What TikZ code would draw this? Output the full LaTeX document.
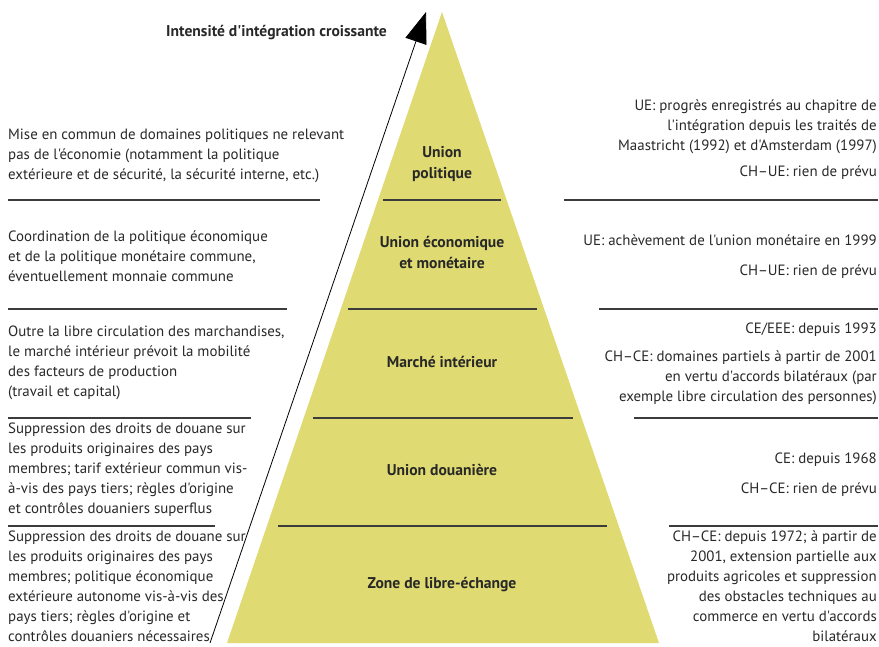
\documentclass[tikz,border=0pt]{standalone}
\usepackage{fontspec}
\setmainfont{PT Sans}[Ligatures=TeXOff]
\usetikzlibrary{arrows.meta}
\definecolor{pyrfill}{RGB}{223,219,114}
\definecolor{txtgray}{RGB}{40,40,40}
\definecolor{rulegray}{RGB}{60,60,60}

\begin{document}
\begin{tikzpicture}[x=1pt, y=-1pt,
  desc/.style={inner sep=0pt, align=left, anchor=west, text=txtgray, font=\fontsize{14.9}{20}\selectfont},
  state/.style={inner sep=0pt, align=right, anchor=east, text=txtgray, font=\fontsize{14.9}{20}\selectfont},
  level/.style={inner sep=0pt, align=center, text=txtgray, font=\bfseries\fontsize{15.6}{21}\selectfont},
  divider/.style={rulegray, line width=1.4pt}]

\useasboundingbox (0,0) rectangle (879,646);

% pyramid
\coordinate (apex) at (442,12);
\coordinate (baseL) at (227,643);
\coordinate (baseR) at (659,643);
\fill[pyrfill] (apex) -- (baseR) -- (baseL) -- cycle;

% dividers
\draw[divider] (8,200) -- (320,200);
\draw[divider] (383,200) -- (501,200);
\draw[divider] (564,200) -- (878,200);

\draw[divider] (8,309) -- (287,309);
\draw[divider] (348,309) -- (537,309);
\draw[divider] (599,309) -- (878,309);

\draw[divider] (8,418) -- (251,418);
\draw[divider] (313,418) -- (573,418);
\draw[divider] (634,418) -- (878,418);

\draw[divider] (8,526) -- (215,526);
\draw[divider] (278,526) -- (607,526);
\draw[divider] (669,526) -- (878,526);

% arrow
\coordinate (arrowfoot) at (210,643);
\coordinate (arrowtip) at (426,12);
\draw[-{Triangle[length=31pt,width=22pt]}, line width=0.8pt] (arrowfoot) -- (arrowtip);
\node[inner sep=0pt, anchor=east, text=txtgray, font=\bfseries\fontsize{15.6}{20}\selectfont] (title) at (387,33) {Intensité d'intégration croissante};

% levels
\node[level] (politique) at (442,164) {Union\\politique};
\node[level] (monetaire) at (442,252.5) {Union économique\\et monétaire};
\node[level] (marche) at (442,362) {Marché intérieur};
\node[level] (douane) at (442,470) {Union douanière};
\node[level] (libre) at (442,585) {Zone de libre-échange};

% left descriptions
\node[desc] (descA) at (8,156) {Mise en commun de domaines politiques ne relevant\\pas de l'économie (notamment la politique\\extérieure et de sécurité, la sécurité interne, etc.)};
\node[desc] (descB) at (8,256.5) {Coordination de la politique économique\\et de la politique monétaire commune,\\éventuellement monnaie commune};
\node[desc] (descC) at (8,363) {Outre la libre circulation des marchandises,\\le marché intérieur prévoit la mobilité\\des facteurs de production\\(travail et capital)};
\node[desc] (descD) at (8,470) {Suppression des droits de douane sur\\les produits originaires des pays\\membres; tarif extérieur commun vis-\\à-vis des pays tiers; règles d'origine\\et contrôles douaniers superflus};
\node[desc] (descE) at (8,586.5) {Suppression des droits de douane sur\\les produits originaires des pays\\membres; politique économique\\extérieure autonome vis-à-vis des\\pays tiers; règles d'origine et\\contrôles douaniers nécessaires};

% right status
\node[state] (stateA) at (877,140) {UE: progrès enregistrés au chapitre de\\l'intégration depuis les traités de\\Maastricht (1992) et d'Amsterdam (1997)\\[6pt]CH–UE: rien de prévu};
\node[state] (stateB) at (877,257) {UE: achèvement de l'union monétaire en 1999\\[10pt]CH–UE: rien de prévu};
\node[state] (stateC) at (877,364) {CE/EEE: depuis 1993\\[8pt]CH–CE: domaines partiels à partir de 2001\\en vertu d'accords bilatéraux (par\\exemple libre circulation des personnes)};
\node[state] (stateD) at (877,475) {CE: depuis 1968\\[10pt]CH–CE: rien de prévu};
\node[state] (stateE) at (877,586.5) {CH–CE: depuis 1972; à partir de\\2001, extension partielle aux\\produits agricoles et suppression\\des obstacles techniques au\\commerce en vertu d'accords\\bilatéraux};

\end{tikzpicture}
\end{document}
